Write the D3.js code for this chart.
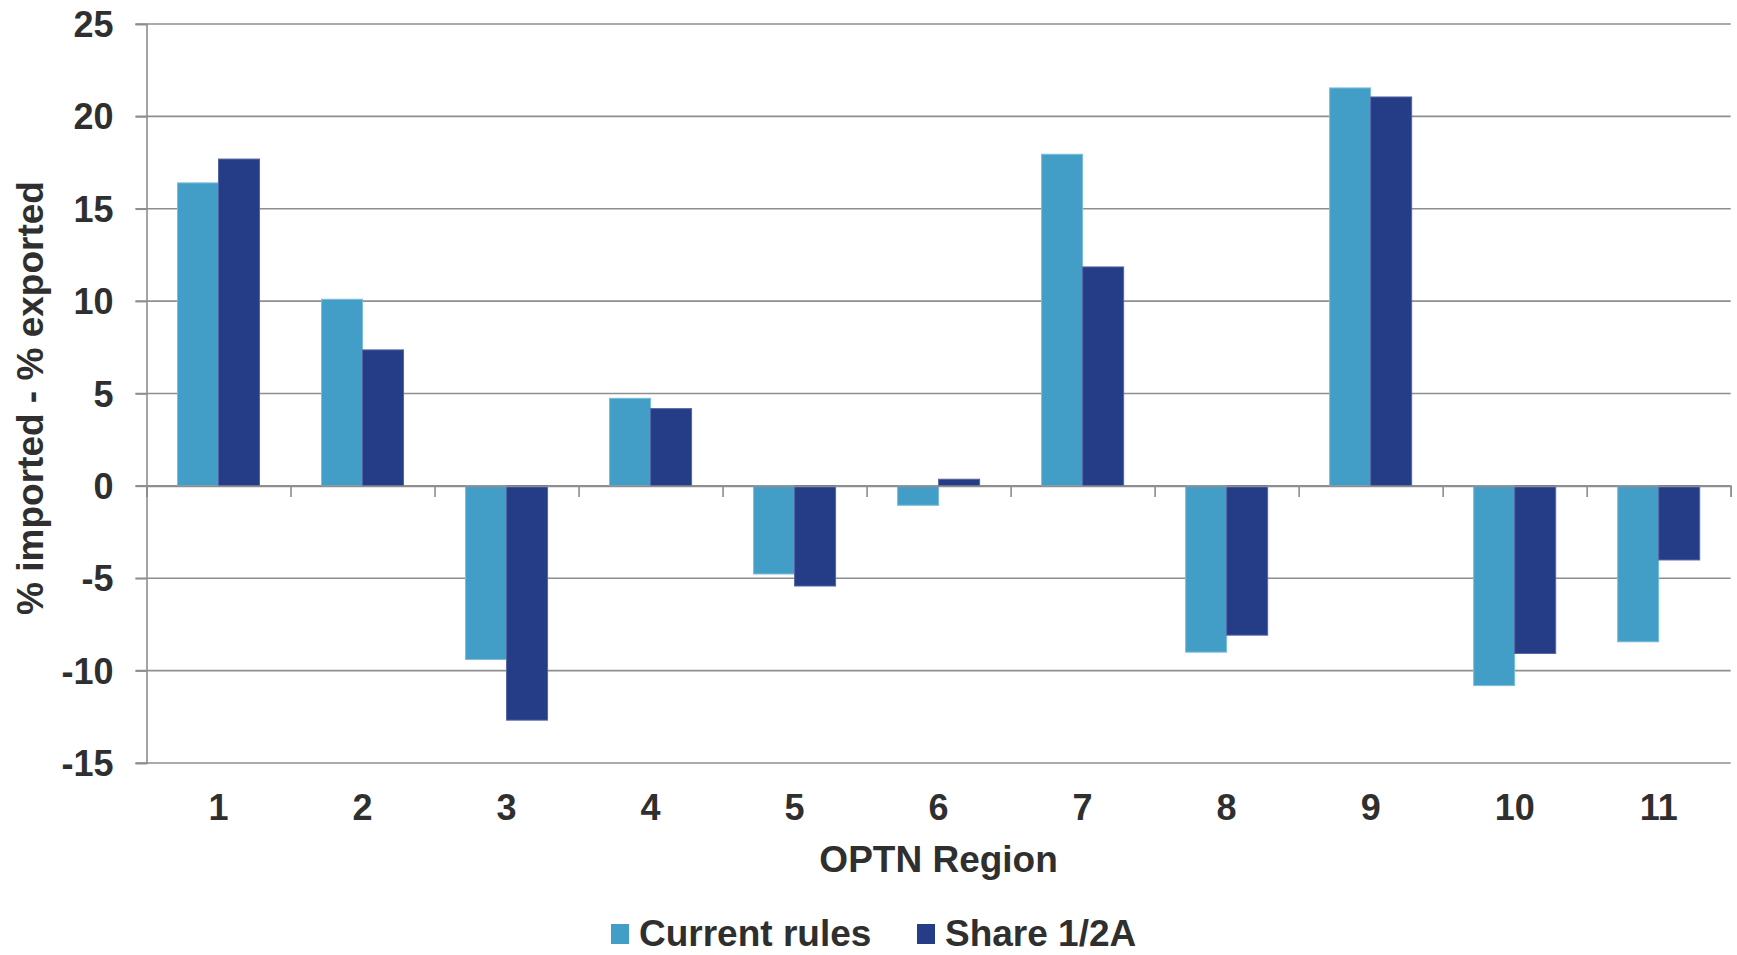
<!DOCTYPE html>
<html>
<head>
<meta charset="utf-8">
<script src="https://cdn.jsdelivr.net/npm/d3@7"></script>
<style>
  body { margin: 0; background: #fff; }
  text { font-family: "Liberation Sans", Arial, sans-serif; font-weight: bold; fill: #2f2f2f; }
</style>
</head>
<body>
<svg id="chart" width="1737" height="955"></svg>
<script>
// data
const regions = ["1", "2", "3", "4", "5", "6", "7", "8", "9", "10", "11"];
const seriesNames = ["Current rules", "Share 1/2A"];
const currentRules = [16.4, 10.1, -9.4, 4.74, -4.77, -1.05, 17.95, -9.0, 21.54, -10.81, -8.44];
const share12A = [17.69, 7.36, -12.68, 4.18, -5.42, 0.36, 11.85, -8.08, 21.05, -9.07, -4.01];
const yTicks = [-15, -10, -5, 0, 5, 10, 15, 20, 25];

const colors = ["#429ec6", "#253c87"];
const edges = ["#7cbddb", "#5564a3"];

const svg = d3.select("#chart");
const plotLeft = 146.5, plotRight = 1730.7, plotTop = 24, plotBottom = 763;

const y = d3.scaleLinear().domain([-15, 25]).range([plotBottom, plotTop]);
const x0 = d3.scaleBand().domain(regions).range([plotLeft, plotRight]).padding(0);
const x1 = d3.scaleBand().domain(seriesNames).range([31, x0.bandwidth() - 31]).padding(0);
const xb = d3.scaleLinear().domain([0, regions.length]).range([plotLeft, plotRight]);

// gridlines
svg.append("g")
  .selectAll("line")
  .data(yTicks)
  .enter()
  .append("line")
    .attr("x1", plotLeft - 11)
    .attr("x2", plotRight)
    .attr("y1", d => y(d))
    .attr("y2", d => y(d))
    .attr("stroke", "#8e8e8e")
    .attr("stroke-width", 1.6);

// y axis (plain hyphen for negatives, like the original)
const yAxis = svg.append("g")
  .attr("transform", "translate(" + plotLeft + ",0)")
  .call(d3.axisLeft(y).tickValues(yTicks).tickSize(11).tickPadding(22).tickFormat(d => String(d)));
yAxis.select(".domain").attr("stroke", "#8e8e8e").attr("stroke-width", 1.6);
yAxis.selectAll(".tick line").attr("stroke", "#8e8e8e").attr("stroke-width", 1.6);
yAxis.selectAll(".tick text")
  .attr("font-size", 36)
  .attr("font-family", "Liberation Sans, Arial, sans-serif")
  .attr("fill", "#2f2f2f")
  .attr("dy", "0.35em");

// bars
const data = regions.map((r, i) => ({ region: r, values: [currentRules[i], share12A[i]] }));
svg.append("g")
  .selectAll("g")
  .data(data)
  .enter()
  .append("g")
    .attr("transform", d => "translate(" + x0(d.region) + ",0)")
  .selectAll("rect")
  .data(d => d.values.map((v, k) => ({ name: seriesNames[k], value: v, k: k })))
  .enter()
  .append("rect")
    .attr("x", d => x1(d.name))
    .attr("width", x1.bandwidth())
    .attr("y", d => y(Math.max(0, d.value)))
    .attr("height", d => Math.abs(y(d.value) - y(0)))
    .attr("fill", d => colors[d.k])
    .attr("stroke", d => edges[d.k])
    .attr("stroke-width", 1);

// x axis on zero line with boundary ticks
const zeroAxis = svg.append("g")
  .attr("transform", "translate(0," + y(0) + ")")
  .call(d3.axisBottom(xb).tickValues(d3.range(0, regions.length + 1)).tickSize(11).tickFormat(""));
zeroAxis.select(".domain").attr("stroke", "#8e8e8e").attr("stroke-width", 1.6);
zeroAxis.selectAll(".tick line").attr("stroke", "#8e8e8e").attr("stroke-width", 1.6);

// category labels
const catAxis = svg.append("g")
  .attr("transform", "translate(0," + plotBottom + ")")
  .call(d3.axisBottom(x0).tickSize(0).tickPadding(0));
catAxis.select(".domain").remove();
catAxis.selectAll(".tick text")
  .attr("font-size", 36)
  .attr("font-family", "Liberation Sans, Arial, sans-serif")
  .attr("fill", "#2f2f2f")
  .attr("y", 57)
  .attr("dy", null);

// axis titles
svg.append("text")
  .attr("x", (plotLeft + plotRight) / 2)
  .attr("y", 872)
  .attr("text-anchor", "middle")
  .attr("font-size", 37)
  .text("OPTN Region");

svg.append("text")
  .attr("transform", "translate(43,398) rotate(-90)")
  .attr("text-anchor", "middle")
  .attr("font-size", 37)
  .text("% imported - % exported");

// legend
const legendX = [611, 917];
const legend = svg.append("g")
  .selectAll("g")
  .data(seriesNames)
  .enter()
  .append("g")
    .attr("transform", (d, i) => "translate(" + legendX[i] + ",0)");
legend.append("rect")
  .attr("x", 0)
  .attr("y", 924)
  .attr("width", 18)
  .attr("height", 20)
  .attr("fill", (d, i) => colors[i]);
legend.append("text")
  .attr("x", 28)
  .attr("y", 946)
  .attr("font-size", 37)
  .text(d => d);
</script>
</body>
</html>
